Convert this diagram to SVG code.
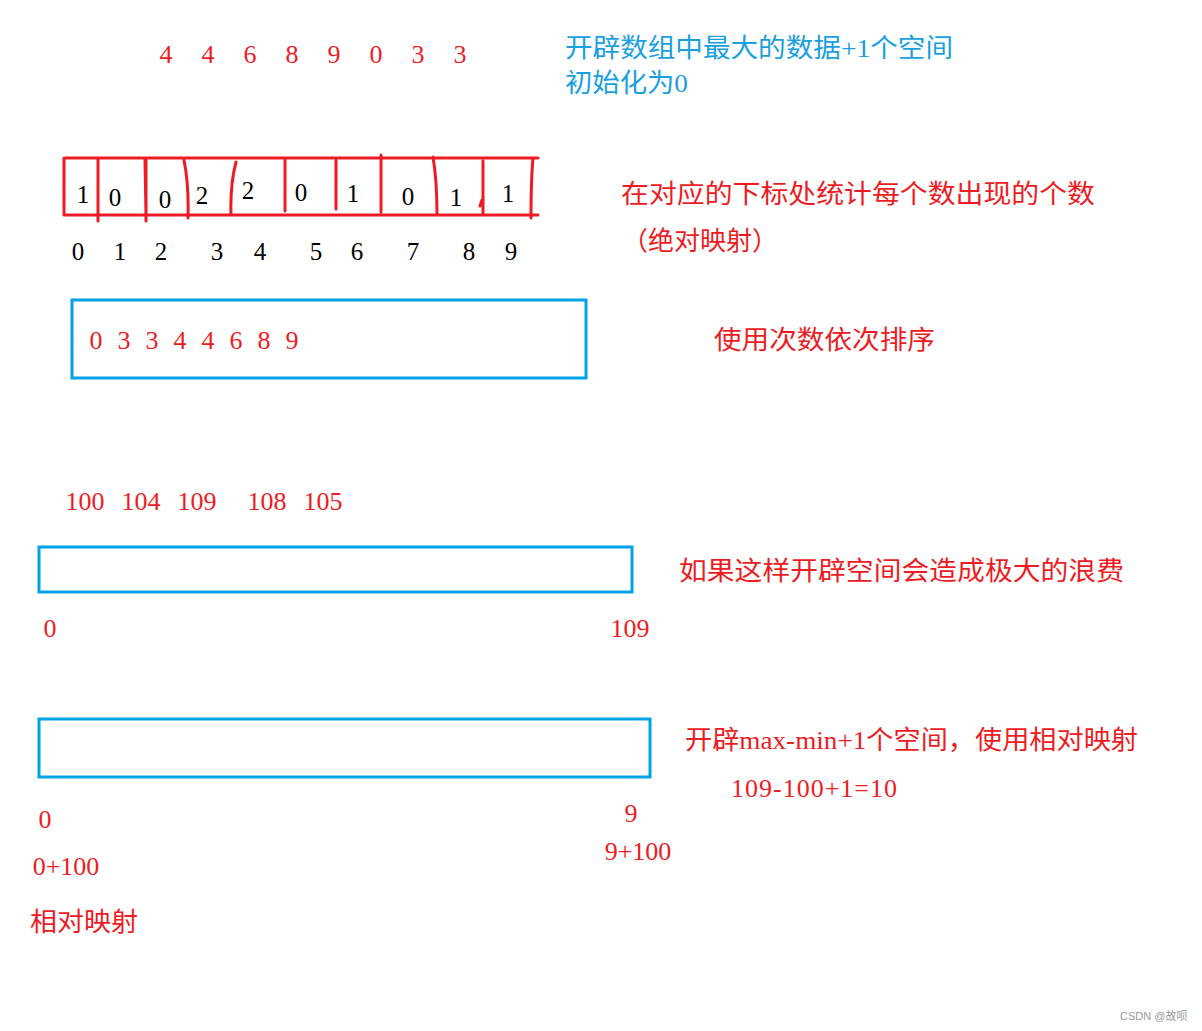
<svg xmlns="http://www.w3.org/2000/svg" width="1202" height="1031" viewBox="0 0 1202 1031">
<style>
.d{font-family:"Liberation Serif","Noto Serif",serif;font-size:26px;fill:#ED1C24;text-anchor:middle}
.k{font-family:"Liberation Serif","Noto Serif",serif;font-size:25px;fill:#000;text-anchor:middle}
.c{font-family:"Liberation Serif","Noto Sans CJK SC",serif;font-size:26px;fill:#ED1C24}
.b{font-family:"Liberation Serif","Noto Sans CJK SC",serif;font-size:26px;fill:#1AA0E0}
.rl{stroke:#ED1C24;stroke-width:3;fill:none;stroke-linecap:round}
.bx{stroke:#00A2E8;stroke-width:3;fill:none}
</style>
<rect width="1202" height="1031" fill="#fff"/>
<g id="input">
<text class="d" x="166" y="63">4</text><text class="d" x="208" y="63">4</text><text class="d" x="250" y="63">6</text><text class="d" x="292" y="63">8</text><text class="d" x="334" y="63">9</text><text class="d" x="376" y="63">0</text><text class="d" x="418" y="63">3</text><text class="d" x="460" y="63">3</text>
</g>
<g id="note1">
<text class="b" x="565" y="57" textLength="388" lengthAdjust="spacingAndGlyphs">开辟数组中最大的数据+1个空间</text>
<text class="b" x="565" y="92" textLength="123" lengthAdjust="spacingAndGlyphs">初始化为0</text>
</g>
<g id="countArray">
<path class="rl" d="M64 158H538M64 215H538M64 158V215M98 158V221M146 160V221M145 160L146 215M184 160Q189 185 188 218M236 162Q230 185 231 215M285 160V211M336 160V209M381 155V212M433 157Q437 180 437 215M483 161V214M480 206L482 200M533 158Q531 180 531 218"/>
<text class="k" x="83" y="203">1</text><text class="k" x="115" y="206">0</text><text class="k" x="165" y="208">0</text><text class="k" x="202" y="204">2</text><text class="k" x="248" y="199">2</text><text class="k" x="301" y="201">0</text><text class="k" x="353" y="202">1</text><text class="k" x="408" y="205">0</text><text class="k" x="456" y="206">1</text><text class="k" x="508" y="202">1</text>
<text class="k" x="78" y="260">0</text><text class="k" x="120" y="260">1</text><text class="k" x="161" y="260">2</text><text class="k" x="217" y="260">3</text><text class="k" x="260" y="260">4</text><text class="k" x="316" y="260">5</text><text class="k" x="357" y="260">6</text><text class="k" x="413" y="260">7</text><text class="k" x="469" y="260">8</text><text class="k" x="511" y="260">9</text>
</g>
<g id="note2">
<text class="c" x="621" y="203" textLength="474" lengthAdjust="spacingAndGlyphs">在对应的下标处统计每个数出现的个数</text>
<text class="c" x="622" y="250" textLength="156" lengthAdjust="spacingAndGlyphs">（绝对映射）</text>
</g>
<g id="sorted">
<rect class="bx" x="72" y="300" width="514" height="78"/>
<text class="d" x="96" y="349">0</text><text class="d" x="124" y="349">3</text><text class="d" x="152" y="349">3</text><text class="d" x="180" y="349">4</text><text class="d" x="208" y="349">4</text><text class="d" x="236" y="349">6</text><text class="d" x="264" y="349">8</text><text class="d" x="292" y="349">9</text>
</g>
<g id="note3">
<text class="c" x="714" y="349" textLength="221" lengthAdjust="spacingAndGlyphs">使用次数依次排序</text>
</g>
<g id="input2">
<text class="d" x="85" y="510">100</text><text class="d" x="141" y="510">104</text><text class="d" x="197" y="510">109</text><text class="d" x="267" y="510">108</text><text class="d" x="323" y="510">105</text>
</g>
<g id="bigArray">
<rect class="bx" x="39" y="547" width="593" height="45"/>
<text class="d" x="50" y="637">0</text>
<text class="d" x="630" y="637">109</text>
</g>
<g id="note4">
<text class="c" x="679" y="580" textLength="445" lengthAdjust="spacingAndGlyphs">如果这样开辟空间会造成极大的浪费</text>
</g>
<g id="smallArray">
<rect class="bx" x="39" y="719" width="611" height="58"/>
<text class="d" x="45" y="828">0</text>
<text class="d" x="631" y="822">9</text>
<text class="d" x="66" y="875">0+100</text>
<text class="d" x="638" y="860">9+100</text>
<text class="c" x="30" y="931" textLength="108" lengthAdjust="spacingAndGlyphs">相对映射</text>
</g>
<g id="note5">
<text class="c" x="685" y="749" textLength="453" lengthAdjust="spacingAndGlyphs">开辟max-min+1个空间，使用相对映射</text>
<text class="d" x="731" y="797" style="text-anchor:start" textLength="166" lengthAdjust="spacing">109-100+1=10</text>
</g>
<text x="1120" y="1020" font-family="Liberation Sans,Noto Sans CJK SC,sans-serif" font-size="11" fill="#999">CSDN @故呗</text>
</svg>
